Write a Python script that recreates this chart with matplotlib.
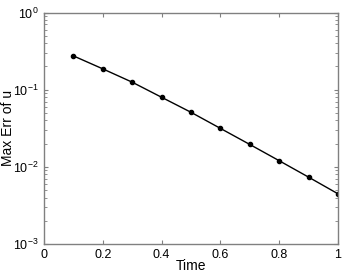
import matplotlib
matplotlib.use('Agg')
import matplotlib.pyplot as plt
import numpy

time = [0.1, 0.2, 0.3, 0.4, 0.5, 0.6, 0.7, 0.8, 0.9, 1.0]
max_err = [0.274, 0.186, 0.125, 0.0797, 0.0509, 0.0315, 0.0195, 0.0120, 0.00735, 0.00447]
xticks = [0, 0.2, 0.4, 0.6, 0.8, 1]
xticklabels = ['0', '0.2', '0.4', '0.6', '0.8', '1']

plt.rcParams['font.family'] = ['Liberation Sans', 'DejaVu Sans']
plt.rcParams['mathtext.fontset'] = 'custom'
plt.rcParams['mathtext.rm'] = 'Liberation Sans'

fig = plt.figure(figsize=(3.46, 2.75), dpi=100)
ax = fig.add_axes([44/346, 1-244/275, 294/346, 231.5/275])
ax.plot(time, max_err, color='black', linewidth=1.0, marker='o', markersize=3)
ax.set_yscale('log')
ax.set_xlim(0, 1)
ax.set_ylim(1e-3, 1e0)
ax.set_xticks(xticks)
ax.set_xticklabels(xticklabels)
ax.set_yticks([1e-3, 1e-2, 1e-1, 1e0])
for s in ax.spines.values():
    s.set_color('#808080')
    s.set_linewidth(1.0)
ax.tick_params(which='both', direction='in', top=True, right=True, color='#808080', labelsize=9, labelcolor='black')
ax.tick_params(which='major', length=3)
ax.tick_params(which='minor', length=2)
ax.tick_params(axis='y', pad=4)
ax.set_xlabel('Time', fontsize=10, labelpad=-1)
ax.set_ylabel('Max Err of u', fontsize=10)
ax.yaxis.set_label_coords(-0.1, 0.5)

plt.savefig('out.png', dpi=100)
